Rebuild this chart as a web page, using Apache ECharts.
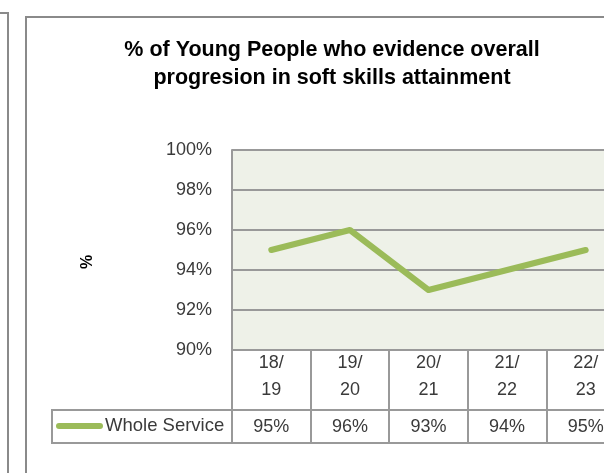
<!DOCTYPE html>
<html>
<head>
<meta charset="utf-8">
<script src="https://cdn.jsdelivr.net/npm/echarts@6/dist/echarts.min.js"></script>
<style>
  html, body { margin: 0; padding: 0; background: #fff; overflow: hidden; }
  /* the panel is wider than the visible window; its right edge runs off-screen */
  #chart { width: 660px; height: 473px; }
</style>
</head>
<body>
<div id="chart"></div>
<script>
// Academic years and the share of young people showing progression
const years = ['18/19', '19/20', '20/21', '21/22', '22/23'];
const wholeService = [95, 96, 93, 94, 95];
const seriesName = 'Whole Service';
const yTicks = { min: 90, max: 100, step: 2 };

const FONT = '"Liberation Sans", Arial, sans-serif';
const TEXT = '#3a3a3a';
const RULE = '#999999';
const GREEN = '#9BBB59';

// Plot box and data-table geometry
const plot = { left: 232, top: 150, width: 393, height: 200 };
const catRow = 60;    // height of the year row under the plot
const valRow = 33;    // height of the value row
const legendCellLeft = 52;

const chart = echarts.init(document.getElementById('chart'), null, { renderer: 'canvas' });

const plotBottom = plot.top + plot.height;

chart.setOption({
  animation: false,
  backgroundColor: '#ffffff',
  title: {
    text: '% of Young People who evidence overall\nprogresion in soft skills attainment',
    left: 332,
    top: 36,
    padding: 0,
    textAlign: 'center',
    textStyle: {
      fontFamily: FONT,
      fontWeight: 'bold',
      fontSize: 21.5,
      lineHeight: 28,
      color: '#000'
    }
  },
  legend: {
    data: [{ name: seriesName }],
    left: legendCellLeft + 4,
    top: plotBottom + catRow + 6,
    padding: 0,
    itemWidth: 47,
    itemHeight: 6,
    icon: 'path://M3,0 H44 A3,3 0 0 1 44,6 H3 A3,3 0 0 1 3,0 Z',
    selectedMode: false,
    textStyle: { fontFamily: FONT, fontSize: 18.5, color: TEXT, lineHeight: 20, padding: [0, 0, 0, -3] }
  },
  grid: {
    left: plot.left,
    top: plot.top,
    width: plot.width,
    height: plot.height,
    show: true,
    backgroundColor: '#EEF1E8',
    borderWidth: 0,
    containLabel: false
  },
  xAxis: [
    {
      // year row
      type: 'category',
      data: years,
      boundaryGap: true,
      position: 'bottom',
      axisLine: { show: true, lineStyle: { color: RULE, width: 2 } },
      axisTick: { show: true, inside: false, length: catRow + valRow, lineStyle: { color: RULE, width: 2 } },
      axisLabel: {
        interval: 0,
        margin: 0,
        fontFamily: FONT,
        fontSize: 18,
        lineHeight: 27,
        color: TEXT,
        formatter: v => v.replace('/', '/\n')
      },
      splitLine: { show: false }
    },
    {
      // value row
      type: 'category',
      data: years,
      position: 'bottom',
      offset: catRow,
      axisLine: { show: true, lineStyle: { color: RULE, width: 2 } },
      axisTick: { show: false },
      axisLabel: {
        interval: 0,
        margin: 7,
        fontFamily: FONT,
        fontSize: 18,
        lineHeight: 20,
        color: TEXT,
        formatter: (v, i) => wholeService[i] + '%'
      }
    },
    {
      // bottom rule of the table
      type: 'category',
      data: years,
      position: 'bottom',
      offset: catRow + valRow,
      axisLine: { show: true, lineStyle: { color: RULE, width: 2 } },
      axisTick: { show: false },
      axisLabel: { show: false }
    }
  ],
  yAxis: {
    type: 'value',
    min: yTicks.min,
    max: yTicks.max,
    interval: yTicks.step,
    axisLine: { show: true, lineStyle: { color: RULE, width: 2 } },
    axisTick: { show: false },
    axisLabel: {
      margin: 20,
      fontFamily: FONT,
      fontSize: 18,
      color: TEXT,
      formatter: '{value}%'
    },
    splitLine: { show: true, lineStyle: { color: RULE, width: 2 } }
  },
  graphic: [
    // edge of the neighbouring panel
    { type: 'polyline', shape: { points: [[0, 13], [8, 13], [8, 480]] },
      style: { stroke: '#8a8a8a', lineWidth: 2, fill: null } },
    // chart frame
    { type: 'rect', shape: { x: 26, y: 17, width: 700, height: 600 },
      style: { stroke: '#8a8a8a', lineWidth: 2, fill: null } },
    // legend cell of the data table
    { type: 'polyline',
      shape: { points: [[plot.left, plotBottom + catRow], [legendCellLeft, plotBottom + catRow],
                        [legendCellLeft, plotBottom + catRow + valRow], [plot.left, plotBottom + catRow + valRow]] },
      style: { stroke: RULE, lineWidth: 2, fill: null } },
    // axis title
    { type: 'text', x: 88, y: 262, rotation: Math.PI / 2,
      style: { text: '%', fontFamily: FONT, fontWeight: 'bold', fontSize: 16, fill: '#000',
               align: 'center', verticalAlign: 'middle' } }
  ],
  series: [
    {
      name: seriesName,
      type: 'line',
      data: wholeService,
      xAxisIndex: 0,
      symbol: 'none',
      smooth: false,
      color: GREEN,
      lineStyle: { color: GREEN, width: 6, cap: 'round', join: 'round' },
      silent: true
    }
  ]
});
</script>
</body>
</html>
